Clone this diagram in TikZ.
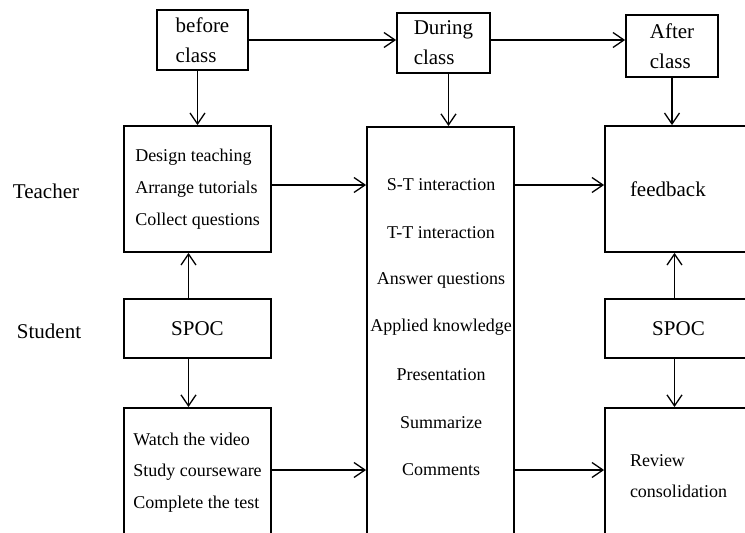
\documentclass[tikz,border=0pt]{standalone}
\usepackage{fontspec}
\setmainfont{Liberation Serif}
\usepackage{tikz}
\usetikzlibrary{arrows.meta}

\begin{document}
\begin{tikzpicture}[x=1pt, y=-1pt,
   box/.style={draw, line width=1.8pt, inner sep=0pt, minimum width=147pt},
   stage/.style={draw, line width=1.8pt, inner sep=0pt, align=left,
      font=\fontsize{21}{30}\selectfont},
   big/.style={font=\fontsize{21}{25}\selectfont},
   small/.style={font=\fontsize{18}{#1}\selectfont},
   arr/.style={-{Straight Barb[length=11pt,width=15pt]}, line width=1.3pt}
]
   \useasboundingbox (0,0) rectangle (745,533);
   \clip (0,0) rectangle (745,533);

   % stages
   \node[stage, minimum width=91pt, minimum height=60pt] (before) at (202.5,40) {before\\class};
   \node[stage, minimum width=93pt, minimum height=60pt] (during) at (443.5,43) {During\\class};
   \node[stage, minimum width=92pt, minimum height=62pt] (after) at (672,46) {After\\class};

   % roles
   \node[big] (teacher) at (46,191) {Teacher};
   \node[big] (student) at (49,331) {Student};

   % before class
   \node[box, minimum height=126pt, align=left, small=32] (design) at (197.5,189)
      {Design teaching\\Arrange tutorials\\Collect questions};
   \node[box, minimum height=59pt, big] (spocs) at (197.5,328.5) {SPOC};
   \node[box, anchor=north, minimum height=129pt, align=left, small=31.5] (watch) at (197.5,407)
      {Watch the video\\Study courseware\\Complete the test};

   % during class
   \node[box, anchor=north, minimum height=440pt] (mid) at (440.5,126) {};
   \foreach \t [count=\i] in {S-T interaction, T-T interaction, Answer questions,
         Applied knowledge, Presentation, Summarize, Comments}
      \node[small=22] (m\i) at (441,{185+47.5*(\i-1)}) {\t};

   % after class
   \node[box, minimum height=126pt, text width=97pt, align=left, big] (feedback) at (678.5,189) {feedback};
   \node[box, minimum height=59pt, big] (spoct) at (678.5,328.5) {SPOC};
   \node[box, anchor=north, minimum height=137pt, text width=97pt, align=left, small=31] (review) at (678.5,407)
      {Review\\consolidation};

   % arrows
   \draw[arr] (before.east) -- (before.east -| during.west);
   \draw[arr] (during.east |- before.east) -- (after.west |- before.east);
   \draw[arr] (design.north |- before.south) -- (design.north);
   \draw[arr] ([xshift=5pt]during.south) -- ([xshift=5pt]during.south |- mid.north);
   \draw[arr] (after.south) -- (after.south |- feedback.north);
   \draw[arr] (design.east |- m1) -- (mid.west |- m1);
   \draw[arr] (mid.east |- m1) -- (feedback.west |- m1);
   \draw[arr] (watch.east |- m7) -- (mid.west |- m7);
   \draw[arr] (mid.east |- m7) -- (review.west |- m7);
   \draw[arr] ([xshift=-9pt]spocs.north) -- ([xshift=-9pt]design.south);
   \draw[arr] ([xshift=-9pt]spocs.south) -- ([xshift=-9pt]watch.north);
   \draw[arr] ([xshift=-4pt]spoct.north) -- ([xshift=-4pt]feedback.south);
   \draw[arr] ([xshift=-4pt]spoct.south) -- ([xshift=-4pt]review.north);
\end{tikzpicture}
\end{document}
